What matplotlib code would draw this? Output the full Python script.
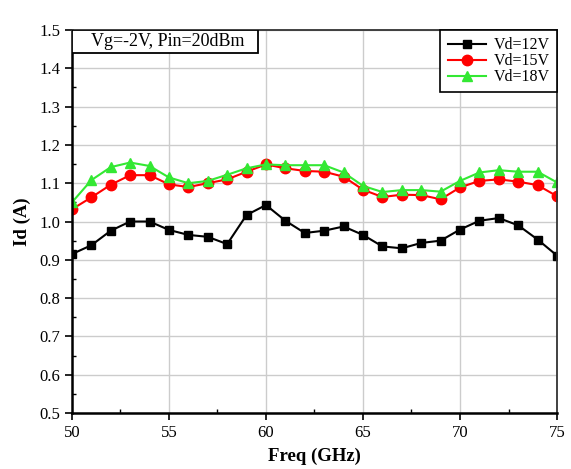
import numpy as np
import matplotlib
matplotlib.use("Agg")
import matplotlib.pyplot as plt
from matplotlib.patches import Rectangle
from matplotlib.ticker import MultipleLocator

freq = list(range(50, 76))
id_12v = [0.915, 0.938, 0.976, 1.000, 1.000, 0.978, 0.965, 0.960, 0.941, 1.017,
          1.043, 1.002, 0.970, 0.976, 0.987, 0.965, 0.935, 0.930, 0.944, 0.950,
          0.979, 1.002, 1.009, 0.990, 0.953, 0.911]
id_15v = [1.032, 1.063, 1.096, 1.121, 1.121, 1.097, 1.090, 1.100, 1.110, 1.130,
          1.149, 1.139, 1.132, 1.130, 1.117, 1.083, 1.064, 1.070, 1.069, 1.058,
          1.089, 1.106, 1.110, 1.104, 1.095, 1.066]
id_18v = [1.050, 1.108, 1.142, 1.154, 1.145, 1.115, 1.100, 1.106, 1.122, 1.139,
          1.149, 1.147, 1.147, 1.147, 1.128, 1.093, 1.077, 1.082, 1.082, 1.078,
          1.106, 1.128, 1.134, 1.130, 1.130, 1.102]

plt.rcParams['font.family'] = ['Liberation Serif', 'DejaVu Serif']

fig = plt.figure(figsize=(5.71, 4.69), dpi=100)
ax = fig.add_axes([0.126, 0.1194, 0.8495, 0.8166])

ax.plot(freq, id_12v, color='black', marker='s', markersize=6, lw=1.5, label='Vd=12V')
ax.plot(freq, id_15v, color='red', marker='o', markersize=7.5, lw=1.5, label='Vd=15V')
ax.plot(freq, id_18v, color='#33e833', marker='^', markersize=7.5, lw=1.5, label='Vd=18V')

ax.set_xlim(50, 75)
ax.set_ylim(0.5, 1.5)
ax.xaxis.set_major_locator(MultipleLocator(5))
ax.xaxis.set_minor_locator(MultipleLocator(2.5))
ax.yaxis.set_minor_locator(MultipleLocator(0.05))
ax.set_yticks(np.arange(0.5, 1.51, 0.1))
ax.set_yticklabels(['%.1f' % v for v in np.arange(0.5, 1.51, 0.1)])
ax.grid(True, which='major', color='#cccccc', lw=1)
ax.set_axisbelow(True)

ax.tick_params(which='major', direction='out', length=5, width=1.2, labelsize=12, colors='black')
ax.tick_params(which='minor', direction='in', length=3, width=1)
for s in ['left', 'bottom']:
    ax.spines[s].set_linewidth(1.8)
for s in ['top', 'right']:
    ax.spines[s].set_linewidth(1.3)
    ax.spines[s].set_color('#333333')

ax.set_xlabel('Freq (GHz)', fontsize=13.5, fontweight='bold', labelpad=5)
ax.set_ylabel('Id (A)', fontsize=13.5, fontweight='bold', labelpad=6)

# condition box in upper-left corner
ax.add_patch(Rectangle((0, 0.94), 0.383, 0.06, transform=ax.transAxes,
                       fc='white', ec='black', lw=1.3, zorder=5))
ax.text(0.04, 0.97, 'Vg=-2V, Pin=20dBm', transform=ax.transAxes, fontsize=13,
        va='center', ha='left', zorder=6)

leg = ax.legend(loc='upper right', fontsize=11.5, frameon=True, fancybox=False,
                borderaxespad=0, handlelength=2.4, labelspacing=0.0,
                borderpad=0.45, handletextpad=0.5, framealpha=1)
leg.get_frame().set_edgecolor('black')
leg.get_frame().set_linewidth(1.2)

fig.savefig('out.png', dpi=100)
